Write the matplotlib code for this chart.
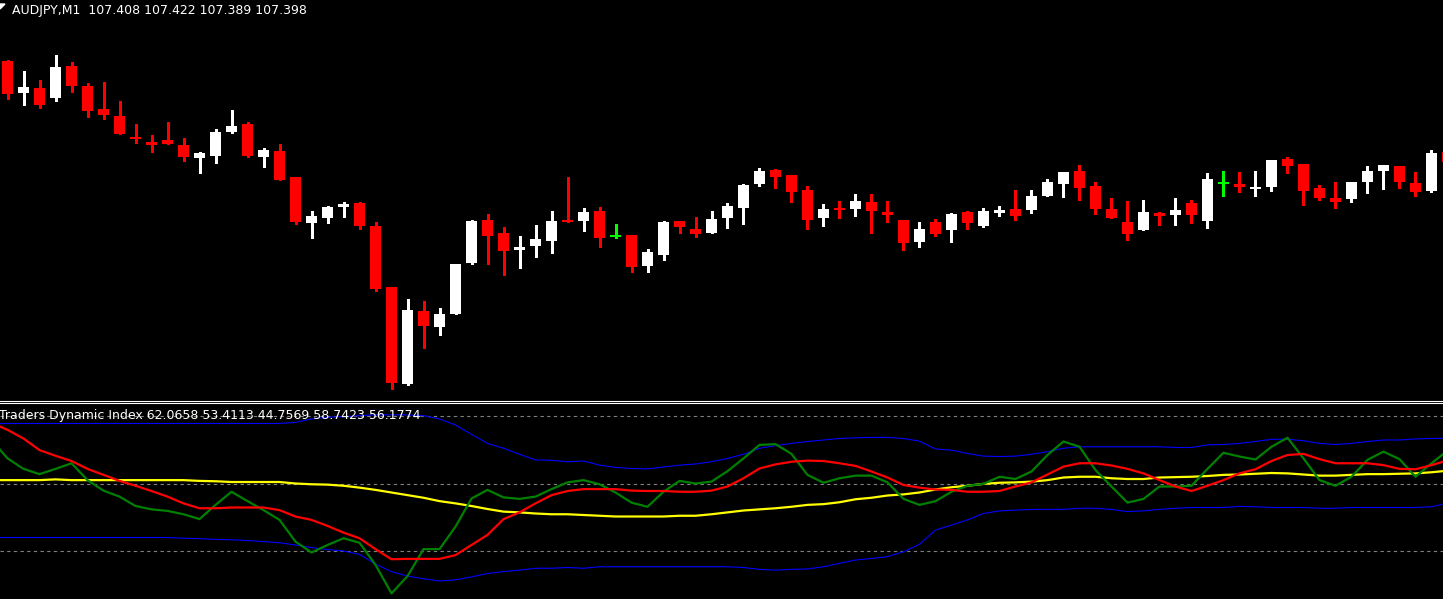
import numpy as np
import matplotlib
matplotlib.use("Agg")
import matplotlib.pyplot as plt
from matplotlib.lines import Line2D
from matplotlib.patches import Polygon

symbol = "AUDJPY,M1"

# M1 bars, oldest first (last one is the forming bar, cut off at the right edge)
opens = [107.499, 107.467, 107.472, 107.462, 107.494, 107.474, 107.451, 107.444, 107.423, 107.418,
         107.420, 107.415, 107.402, 107.404, 107.428, 107.436, 107.403, 107.409, 107.383, 107.337,
         107.342, 107.353, 107.357, 107.334, 107.273, 107.176, 107.249, 107.233, 107.246, 107.297,
         107.340, 107.327, 107.310, 107.314, 107.319, 107.340, 107.339, 107.349, 107.324, 107.325,
         107.294, 107.305, 107.339, 107.331, 107.327, 107.342, 107.352, 107.376, 107.390, 107.385,
         107.370, 107.342, 107.352, 107.351, 107.358, 107.348, 107.340, 107.318, 107.338, 107.330,
         107.348, 107.334, 107.347, 107.351, 107.350, 107.364, 107.376, 107.389, 107.374, 107.351,
         107.338, 107.330, 107.347, 107.345, 107.357, 107.339, 107.377, 107.376, 107.371, 107.373,
         107.401, 107.396, 107.372, 107.362, 107.361, 107.378, 107.389, 107.394, 107.377, 107.369,
         107.408]
highs = [107.500, 107.489, 107.480, 107.505, 107.498, 107.477, 107.478, 107.459, 107.436, 107.425,
         107.438, 107.422, 107.408, 107.431, 107.450, 107.438, 107.412, 107.416, 107.383, 107.349,
         107.354, 107.358, 107.358, 107.338, 107.273, 107.261, 107.259, 107.252, 107.296, 107.340,
         107.346, 107.333, 107.324, 107.335, 107.349, 107.383, 107.352, 107.353, 107.336, 107.325,
         107.311, 107.339, 107.339, 107.343, 107.349, 107.357, 107.376, 107.392, 107.391, 107.385,
         107.374, 107.356, 107.359, 107.366, 107.366, 107.359, 107.340, 107.338, 107.341, 107.347,
         107.349, 107.352, 107.354, 107.370, 107.370, 107.381, 107.388, 107.395, 107.378, 107.362,
         107.359, 107.360, 107.348, 107.362, 107.360, 107.387, 107.389, 107.388, 107.389, 107.400,
         107.403, 107.396, 107.375, 107.378, 107.378, 107.394, 107.395, 107.394, 107.388, 107.410,
         107.422]
lows = [107.461, 107.455, 107.452, 107.459, 107.468, 107.443, 107.441, 107.426, 107.417, 107.408,
        107.416, 107.399, 107.387, 107.397, 107.427, 107.403, 107.393, 107.380, 107.336, 107.322,
        107.337, 107.343, 107.331, 107.269, 107.171, 107.175, 107.212, 107.225, 107.246, 107.296,
        107.296, 107.285, 107.292, 107.303, 107.307, 107.338, 107.329, 107.313, 107.322, 107.288,
        107.288, 107.300, 107.327, 107.323, 107.327, 107.332, 107.336, 107.374, 107.372, 107.358,
        107.331, 107.334, 107.342, 107.344, 107.327, 107.338, 107.310, 107.313, 107.324, 107.318,
        107.331, 107.333, 107.344, 107.340, 107.347, 107.364, 107.363, 107.360, 107.346, 107.342,
        107.320, 107.330, 107.335, 107.335, 107.337, 107.332, 107.364, 107.368, 107.364, 107.369,
        107.387, 107.355, 107.360, 107.352, 107.358, 107.367, 107.371, 107.372, 107.364, 107.368,
        107.389]
closes = [107.466, 107.473, 107.455, 107.493, 107.474, 107.449, 107.445, 107.426, 107.421, 107.415,
          107.416, 107.403, 107.407, 107.428, 107.434, 107.404, 107.410, 107.380, 107.338, 107.344,
          107.353, 107.356, 107.334, 107.271, 107.177, 107.250, 107.234, 107.246, 107.296, 107.339,
          107.324, 107.309, 107.313, 107.321, 107.339, 107.338, 107.348, 107.322, 107.324, 107.293,
          107.308, 107.338, 107.333, 107.326, 107.341, 107.354, 107.375, 107.389, 107.383, 107.368,
          107.340, 107.351, 107.350, 107.359, 107.349, 107.345, 107.317, 107.331, 107.326, 107.346,
          107.337, 107.349, 107.350, 107.344, 107.364, 107.378, 107.388, 107.372, 107.351, 107.342,
          107.326, 107.348, 107.344, 107.350, 107.345, 107.381, 107.377, 107.373, 107.373, 107.400,
          107.394, 107.369, 107.362, 107.358, 107.378, 107.389, 107.395, 107.378, 107.368, 107.407,
          107.398]

# Traders Dynamic Index buffers; first value belongs to the bar just left of the window
tdi_upper = [66.0,
             66.0, 66.0, 66.0, 66.0, 66.0, 66.0, 66.0, 66.0, 66.0, 66.0, 66.0, 66.0, 66.0, 66.0, 66.0,
             66.0, 66.0, 66.0, 66.3, 67.2, 67.7, 67.8, 68.1, 68.3, 68.3, 68.3, 68.1, 67.2, 65.6, 63.1,
             60.7, 59.4, 57.8, 56.3, 56.2, 55.8, 56.0, 54.9, 54.3, 54.0, 53.9, 54.4, 54.9, 55.2, 55.8,
             56.7, 57.8, 59.4, 60.1, 60.7, 61.2, 61.6, 62.0, 62.2, 62.3, 62.3, 62.0, 61.3, 59.2, 58.9,
             58.0, 57.3, 57.2, 57.3, 57.8, 58.5, 59.4, 59.8, 59.8, 59.8, 59.8, 59.8, 59.8, 59.6, 59.6,
             60.3, 60.4, 60.7, 61.2, 61.8, 61.8, 61.4, 60.7, 60.4, 60.7, 61.2, 61.6, 61.6, 61.9, 62.0,
             62.0658]
tdi_mid = [50.9,
           50.9, 50.9, 50.9, 51.1, 50.9, 50.9, 50.9, 50.9, 50.9, 50.9, 50.9, 50.9, 50.7, 50.6, 50.4,
           50.4, 50.4, 50.4, 50.0, 49.8, 49.7, 49.4, 48.9, 48.3, 47.6, 46.9, 46.2, 45.3, 44.7, 44.0,
           43.2, 42.5, 42.3, 42.0, 41.8, 41.8, 41.6, 41.4, 41.2, 41.2, 41.2, 41.2, 41.4, 41.4, 41.8,
           42.3, 42.8, 43.1, 43.4, 43.8, 44.3, 44.5, 45.0, 45.8, 46.2, 46.8, 47.1, 47.6, 48.4, 49.0,
           49.4, 49.9, 50.2, 50.3, 50.5, 50.9, 51.6, 51.8, 51.8, 51.4, 51.2, 51.2, 51.6, 51.7, 51.8,
           52.0, 52.3, 52.4, 52.6, 52.8, 52.7, 52.4, 52.1, 52.1, 52.3, 52.5, 52.5, 52.6, 52.7, 53.0,
           53.4113]
tdi_lower = [35.6,
             35.6, 35.6, 35.6, 35.6, 35.6, 35.6, 35.6, 35.6, 35.6, 35.6, 35.6, 35.4, 35.3, 35.1, 35.0,
             34.8, 34.5, 34.2, 33.6, 32.9, 32.4, 32.0, 31.1, 28.5, 26.5, 25.3, 24.6, 24.0, 24.3, 25.1,
             26.0, 26.5, 26.9, 27.4, 27.4, 27.6, 27.4, 27.8, 27.8, 27.8, 27.8, 27.8, 27.8, 27.8, 27.8,
             27.8, 27.6, 27.1, 26.9, 27.1, 27.2, 27.8, 28.7, 29.6, 30.0, 30.5, 31.8, 33.8, 37.6, 38.9,
             40.3, 42.0, 42.7, 42.9, 43.1, 43.1, 43.1, 43.4, 43.4, 43.1, 42.5, 42.7, 43.1, 43.4, 43.6,
             43.6, 43.6, 43.9, 43.8, 43.6, 43.6, 43.6, 43.4, 43.4, 43.6, 43.6, 43.6, 43.6, 43.6, 43.8,
             44.7569]
tdi_rsi = [61.6,
           56.7, 53.9, 52.5, 53.9, 55.4, 50.9, 48.1, 46.5, 44.0, 43.1, 42.7, 41.8, 40.5, 44.3, 47.8,
           45.3, 42.9, 40.3, 34.5, 31.6, 33.6, 35.4, 34.2, 28.3, 20.7, 25.3, 32.5, 32.5, 38.5, 46.0,
           48.3, 46.3, 45.9, 46.5, 48.5, 50.3, 50.9, 49.8, 47.6, 44.9, 43.8, 47.8, 50.7, 50.0, 50.5,
           53.3, 56.7, 60.3, 60.5, 57.9, 52.3, 50.2, 51.4, 52.1, 52.1, 50.3, 45.9, 44.3, 45.3, 47.8,
           49.4, 49.9, 51.8, 51.2, 53.2, 57.6, 61.2, 59.8, 53.6, 49.2, 44.9, 45.9, 49.2, 49.2, 49.4,
           53.9, 58.2, 57.2, 56.4, 59.8, 62.2, 56.7, 50.9, 49.4, 51.8, 56.3, 58.5, 56.5, 51.8, 55.4,
           58.7423]
tdi_signal = [66.2,
              64.3, 62.0, 58.9, 57.4, 56.0, 53.9, 52.3, 50.7, 49.4, 48.0, 46.5, 44.7, 43.4, 43.4, 43.6,
              43.6, 43.6, 42.9, 41.2, 40.3, 38.7, 36.9, 35.4, 32.5, 29.8, 29.9, 29.9, 29.9, 30.9, 33.6,
              36.3, 40.5, 42.3, 44.7, 46.9, 48.0, 48.5, 48.5, 48.5, 48.1, 48.0, 48.0, 47.8, 47.8, 48.1,
              49.2, 51.4, 54.0, 55.1, 55.8, 56.1, 56.0, 55.4, 54.7, 53.2, 51.6, 49.6, 48.9, 48.4, 48.3,
              47.8, 47.8, 48.0, 49.2, 50.3, 52.4, 54.5, 55.4, 55.4, 54.8, 53.9, 52.7, 50.9, 49.2, 48.0,
              49.4, 50.9, 52.7, 53.8, 56.0, 57.6, 57.9, 56.5, 55.4, 55.4, 55.4, 54.9, 53.9, 53.8, 54.9,
              56.1774]
tdi_levels = [32, 50, 68]

W, H = 1443, 599
fig = plt.figure(figsize=(W / 100, H / 100), dpi=100, facecolor="black")

# price window: pixel rows 0..397
ax = fig.add_axes([0, 1 - 397 / H, 1, 397 / H], facecolor="black")
# indicator window: pixel rows 403..599
ax2 = fig.add_axes([0, 0, 1, 196 / H], facecolor="black")

o, h, l, c = (np.array(v) for v in (opens, highs, lows, closes))
x = np.arange(len(o))
up, dn = c > o, c < o
doji = ~(up | dn)
col = np.where(up, "#ffffff", np.where(dn, "#ff0000", "#00ff00"))

ax.vlines(x, l, h, colors=col, lw=0.8, antialiased=False)
body_lo = np.minimum(o, c)
body_h = np.maximum(np.abs(c - o), 0.001)
ax.bar(x[~doji], body_h[~doji], bottom=body_lo[~doji], width=0.69,
       color=col[~doji], linewidth=0, antialiased=False)
ax.hlines(o[doji], x[doji] - 0.34, x[doji] + 0.34, colors="#00ff00", lw=1.2, antialiased=False)

xl = (-0.47, 89.72)
ax.set_xlim(*xl)
ax.set_ylim(107.163, 107.560)
ax.axis("off")

# TDI
tx = np.arange(-1, len(tdi_rsi) - 1)
for lv in tdi_levels:
    ax2.axhline(lv, color="#808080", lw=0.8, ls=(0, (3, 3)), zorder=1)
ax2.plot(tx, tdi_upper, color="#0000ff", lw=0.8, zorder=2)
ax2.plot(tx, tdi_mid, color="#ffff00", lw=1.6, zorder=3)
ax2.plot(tx, tdi_lower, color="#0000ff", lw=0.8, zorder=2)
ax2.plot(tx, tdi_rsi, color="#008000", lw=1.6, zorder=4)
ax2.plot(tx, tdi_signal, color="#ff0000", lw=1.6, zorder=5)
ax2.set_xlim(*xl)
ax2.set_ylim(19.2, 71.47)
ax2.axis("off")

# window separator (double white line)
for yy in (400.5, 402.5):
    fig.add_artist(Line2D([0, 1], [1 - yy / H, 1 - yy / H], color="white", lw=0.8,
                          transform=fig.transFigure))

# header texts
fig.add_artist(Polygon([(0, 1 - 4 / H), (5 / W, 1 - 4 / H), (0, 1 - 9 / H)], closed=True,
                       color="white", transform=fig.transFigure))
fig.text(12 / W, 1 - 14 / H,
         f"{symbol}  {opens[-1]:.3f} {highs[-1]:.3f} {lows[-1]:.3f} {closes[-1]:.3f}",
         color="white", fontsize=9, family="DejaVu Sans", va="baseline", ha="left")
tdi_label = "Traders Dynamic Index " + " ".join(
    f"{v[-1]:.4f}" for v in (tdi_upper, tdi_mid, tdi_lower, tdi_rsi, tdi_signal))
fig.text(-1 / W, 1 - 419 / H, tdi_label, color="white", fontsize=9, family="DejaVu Sans",
         va="baseline", ha="left", zorder=10)

fig.savefig("out.png", dpi=100, facecolor="black")
